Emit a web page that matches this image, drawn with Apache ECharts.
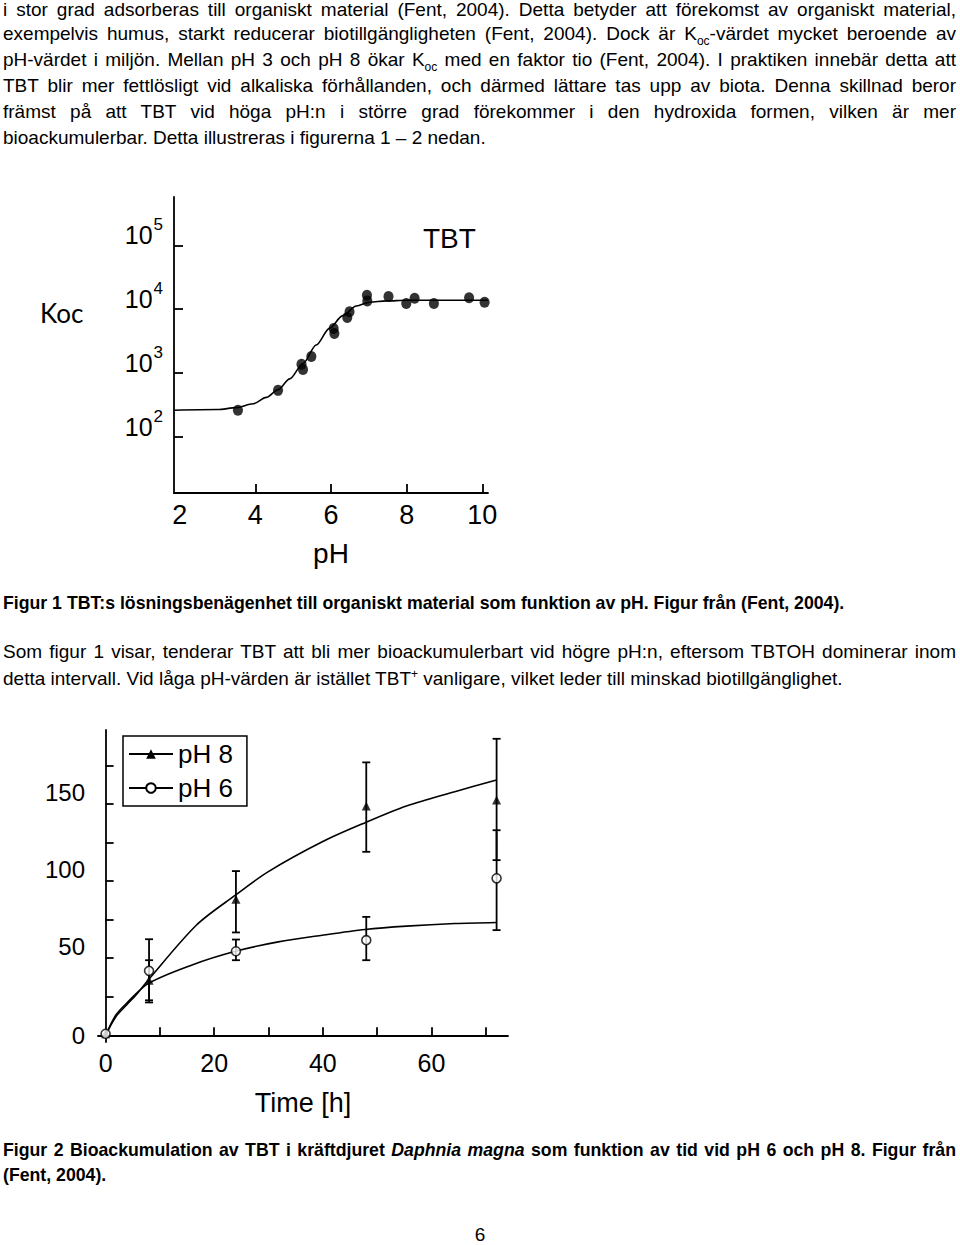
<!DOCTYPE html>
<html>
<head>
<meta charset="utf-8">
<script src="https://cdn.jsdelivr.net/npm/echarts@6/dist/echarts.min.js"></script>
<style>
  html, body { margin: 0; padding: 0; background: #fff; }
  body { width: 960px; height: 1245px; position: relative; overflow: hidden;
         font-family: "Liberation Sans", Arial, sans-serif; color: #000; }
  .ln { position: absolute; left: 3px; width: 953px; height: 26px; line-height: 26px;
        font-size: 19px; white-space: nowrap; }
  .j { text-align: justify; text-align-last: justify; }
  .b { font-weight: bold; font-size: 17.7px; }
  sub, sup { font-size: 12px; line-height: 0; }
  #fig1 { position: absolute; left: 0; top: 190px; width: 560px; height: 400px; }
  #fig2 { position: absolute; left: 0; top: 720px; width: 560px; height: 420px; }
  #page { position: absolute; left: 0; width: 960px; top: 1222px; text-align: center; font-size: 19px; line-height: 26px; }
</style>
</head>
<body>
<div class="ln j" style="top:-3px">i stor grad adsorberas till organiskt material (Fent, 2004). Detta betyder att förekomst av organiskt material,</div>
<div class="ln j" style="top:21px">exempelvis humus, starkt reducerar biotillgängligheten (Fent, 2004). Dock är K<sub>oc</sub>-värdet mycket beroende av</div>
<div class="ln j" style="top:47px">pH-värdet i miljön. Mellan pH 3 och pH 8 ökar K<sub>oc</sub> med en faktor tio (Fent, 2004). I praktiken innebär detta att</div>
<div class="ln j" style="top:73px">TBT blir mer fettlösligt vid alkaliska förhållanden, och därmed lättare tas upp av biota. Denna skillnad beror</div>
<div class="ln j" style="top:99px">främst på att TBT vid höga pH:n i större grad förekommer i den hydroxida formen, vilken är mer</div>
<div class="ln" style="top:125px">bioackumulerbar. Detta illustreras i figurerna 1 – 2 nedan.</div>

<div id="fig1"></div>

<div class="ln b" style="top:590px">Figur 1 TBT:s lösningsbenägenhet till organiskt material som funktion av pH. Figur från (Fent, 2004).</div>
<div class="ln j" style="top:639px">Som figur 1 visar, tenderar TBT att bli mer bioackumulerbart vid högre pH:n, eftersom TBTOH dominerar inom</div>
<div class="ln" style="top:666px">detta intervall. Vid låga pH-värden är istället TBT<sup>+</sup> vanligare, vilket leder till minskad biotillgänglighet.</div>

<div id="fig2"></div>

<div class="ln b j" style="top:1137px">Figur 2 Bioackumulation av TBT i kräftdjuret <i>Daphnia magna</i> som funktion av tid vid pH 6 och pH 8. Figur från</div>
<div class="ln b" style="top:1162px">(Fent, 2004).</div>
<div id="page">6</div>

<script>
// Figur 1: Koc mot pH (log-skala)
const phPoints = [3.54, 4.60, 5.22, 5.26, 5.48, 6.07, 6.09, 6.43, 6.49, 6.95, 6.96, 7.52, 7.99, 8.21, 8.72, 9.65, 10.06];
const kocPoints = [262, 537, 1380, 1135, 1820, 5010, 4170, 7410, 9120, 16600, 13500, 15850, 12300, 14800, 12300, 15100, 12900];
const phCurve = [1.85, 3.0, 3.5, 3.94, 4.29, 4.60, 4.91, 5.26, 5.61, 5.96, 6.31, 6.67, 7.02, 7.46, 8.0, 10.15];
const kocCurve = [263, 269, 288, 331, 417, 550, 813, 1413, 2754, 5012, 7943, 11220, 12880, 13490, 13800, 13800];
const phLabels = [2, 4, 6, 8, 10];
const phTicks = [4, 6, 8, 10];
const kocExponents = [2, 3, 4, 5];

// Figur 2: bioackumulation mot tid
const timeH = [0, 8, 24, 48, 72];
const ph8Mean = [1, 35.7, 88.3, 148.7, 152.6];
const ph8Low = [1, 22.7, 66.7, 119, 113.6];
const ph8High = [1, 48.7, 106.5, 177, 192.3];
const ph6Mean = [1, 41.8, 54.5, 61.7, 101.8];
const ph6Low = [1, 21.3, 48.7, 48.7, 68.2];
const ph6High = [1, 62.3, 62.1, 76.8, 133];
const ph8CurveT = [0, 1.86, 3.82, 5.85, 7.81, 16.7, 23.9, 29.9, 39.9, 47.8, 55.4, 64.3, 72];
const ph8CurveY = [0, 11.9, 19.5, 27.1, 35.7, 71.4, 90.9, 106, 125.5, 137.9, 148.7, 158, 165.6];
const ph6CurveT = [0, 1.86, 3.82, 7.81, 15.8, 23.9, 31.8, 39.9, 47.8, 55.4, 64.3, 72];
const ph6CurveY = [0, 13, 20.6, 33.5, 45.5, 54.5, 60.6, 64.9, 68.6, 70.8, 72.5, 73.2];
const timeLabels = [0, 20, 40, 60];
const timeTicks = [10, 20, 30, 40, 50, 60, 70];
const bioLabels = [0, 50, 100, 150];
const bioTicks = [25, 50, 75, 100, 125, 150, 175];

const FONT = '"Liberation Sans", Arial, sans-serif';
const axisLine = { lineStyle: { color: '#000', width: 1.8 } };
const tick = (vals, len) => ({ inside: true, length: len, customValues: vals, lineStyle: { color: '#000', width: 1.8 } });

const fig1 = echarts.init(document.getElementById('fig1'), null, { renderer: 'svg' });
fig1.setOption({
  animation: false,
  grid: { left: 174, top: 7, width: 314, height: 296, outerBoundsMode: 'none' },
  xAxis: {
    type: 'value', min: 1.85, max: 10.15,
    axisLine: axisLine,
    axisTick: tick(phTicks, 9),
    axisLabel: { customValues: phLabels, color: '#000', fontSize: 27, fontFamily: FONT, margin: 8 },
    splitLine: { show: false },
    name: 'pH', nameLocation: 'middle', nameGap: 46,
    nameTextStyle: { color: '#000', fontSize: 28, fontFamily: FONT }
  },
  yAxis: {
    type: 'value', min: 1.124, max: 5.756,
    axisLine: axisLine,
    axisTick: tick(kocExponents, 9),
    axisLabel: {
      customValues: kocExponents, color: '#000', fontFamily: FONT, margin: 11,
      padding: [0, 0, 28, 0],
      formatter: v => '{b|10}{s|' + Math.round(v) + '}',
      rich: {
        b: { fontSize: 25, padding: [8, 0, 0, 0] },
        s: { fontSize: 17, padding: [0, 0, 14, 1] }
      }
    },
    splitLine: { show: false }
  },
  graphic: [
    { type: 'text', left: 40, top: 110, style: { text: 'Koc', fontSize: 26, fontFamily: 'Lato, sans-serif', fill: '#000' } },
    { type: 'text', left: 423, top: 34, style: { text: 'TBT', fontSize: 28, fontFamily: FONT, fill: '#000' } }
  ],
  series: [
    {
      name: 'kurva', type: 'line', smooth: 0.3, smoothMonotone: 'x', symbol: 'none',
      lineStyle: { color: '#000', width: 1.6 },
      data: phCurve.map((p, i) => [p, Math.log10(kocCurve[i])])
    },
    {
      name: 'TBT', type: 'scatter', symbol: 'circle', symbolSize: [10, 11],
      itemStyle: { color: '#000' },
      data: phPoints.map((p, i) => [p, Math.log10(kocPoints[i])])
    }
  ]
});

// felstaplar som egen serie
function errorSeries(low, high) {
  return {
    type: 'custom', silent: true, z: 1,
    data: timeH.map((t, i) => [t, low[i], high[i]]).filter(d => d[2] > d[1]),
    renderItem: (params, api) => {
      const lo = api.coord([api.value(0), api.value(1)]);
      const hi = api.coord([api.value(0), api.value(2)]);
      const w = 4;
      const st = { stroke: '#000', lineWidth: 1.8 };
      return {
        type: 'group',
        children: [
          { type: 'line', shape: { x1: lo[0], y1: lo[1], x2: hi[0], y2: hi[1] }, style: st },
          { type: 'line', shape: { x1: lo[0] - w, y1: lo[1], x2: lo[0] + w, y2: lo[1] }, style: st },
          { type: 'line', shape: { x1: hi[0] - w, y1: hi[1], x2: hi[0] + w, y2: hi[1] }, style: st }
        ]
      };
    }
  };
}

const fig2 = echarts.init(document.getElementById('fig2'), null, { renderer: 'svg' });
fig2.setOption({
  animation: false,
  grid: { left: 98, top: 10, width: 410, height: 312, outerBoundsMode: 'none' },
  legend: {
    data: ['pH 8', 'pH 6'], orient: 'vertical', left: 123, top: 16,
    padding: [5, 14, 5, 5], itemGap: 8, itemWidth: 44, itemHeight: 12,
    borderColor: '#000', borderWidth: 1.5,
    textStyle: { color: '#000', fontSize: 26, fontFamily: FONT }
  },
  xAxis: {
    type: 'value', min: -1.4, max: 74.1,
    axisLine: axisLine,
    axisTick: tick(timeTicks, 8),
    axisLabel: { customValues: timeLabels, color: '#000', fontSize: 25, fontFamily: FONT, margin: 8 },
    splitLine: { show: false },
    name: 'Time [h]', nameLocation: 'middle', nameGap: 47,
    nameTextStyle: { color: '#000', fontSize: 27, fontFamily: FONT }
  },
  yAxis: {
    type: 'value', min: -4.35, max: 198,
    axisLine: axisLine,
    axisTick: tick(bioTicks, 8),
    axisLabel: {
      customValues: bioLabels, color: '#000', fontFamily: FONT, margin: 13,
      formatter: v => v === 0 ? '{z|0}' : '{n|' + v + '}',
      rich: { z: { fontSize: 24 }, n: { fontSize: 24, padding: [0, 0, 24, 0] } }
    },
    splitLine: { show: false }
  },
  series: [
    errorSeries(ph8Low, ph8High),
    errorSeries(ph6Low, ph6High),
    {
      name: 'pH 8', type: 'line', smooth: 0.3, symbol: 'triangle', showSymbol: false,
      itemStyle: { color: '#000' }, lineStyle: { color: '#000', width: 1.6 },
      data: ph8CurveT.map((t, i) => [t, ph8CurveY[i]])
    },
    {
      name: 'pH 6', type: 'line', smooth: 0.3, symbol: 'emptyCircle', showSymbol: false,
      itemStyle: { color: '#000' }, lineStyle: { color: '#000', width: 1.6 },
      data: ph6CurveT.map((t, i) => [t, ph6CurveY[i]])
    },
    {
      name: 'pH 8 mätvärden', type: 'scatter', symbol: 'triangle', symbolSize: 9, z: 3,
      itemStyle: { color: '#000' },
      data: timeH.map((t, i) => [t, ph8Mean[i]])
    },
    {
      name: 'pH 6 mätvärden', type: 'scatter', symbol: 'circle', symbolSize: 9, z: 4,
      itemStyle: { color: '#fff', borderColor: '#000', borderWidth: 1.6 },
      data: timeH.map((t, i) => [t, ph6Mean[i]])
    }
  ]
});
</script>
</body>
</html>
